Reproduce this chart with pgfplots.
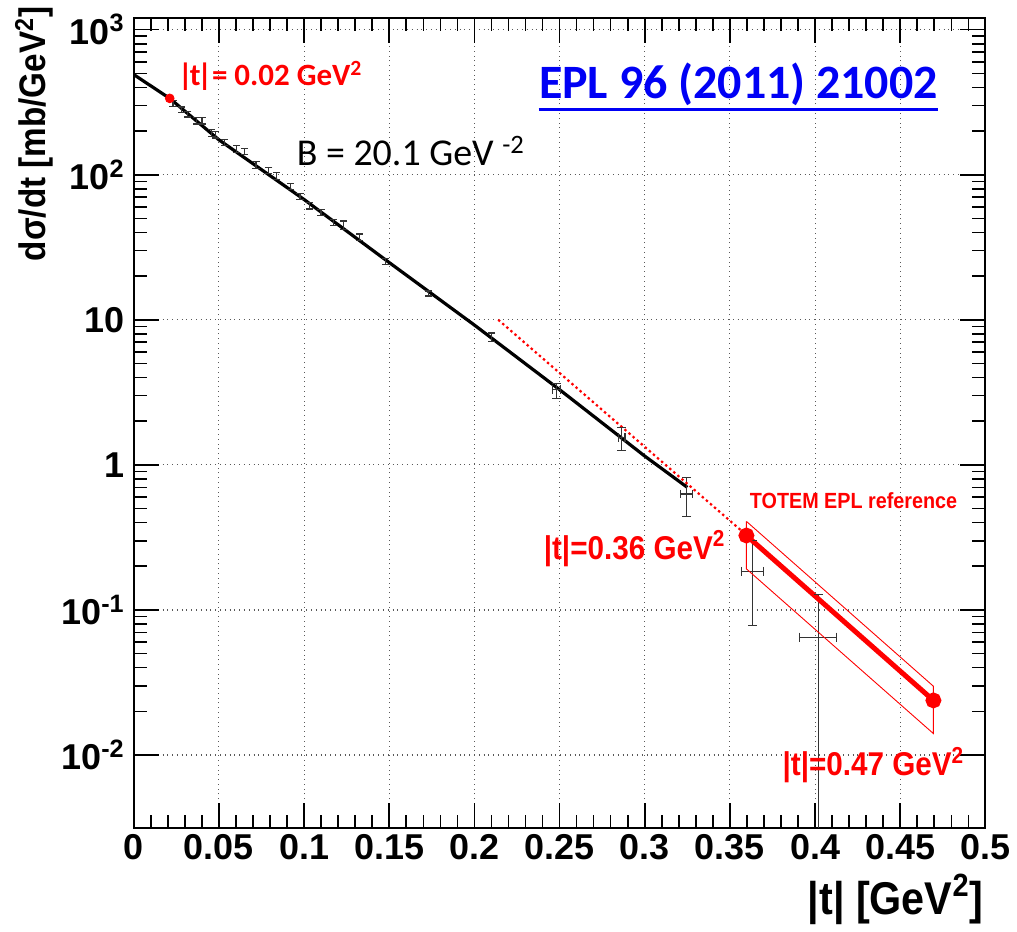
\documentclass[border=0pt]{standalone}
\usepackage{fontspec}
\setmainfont{Liberation Sans}
\newfontfamily\calibri{Carlito}
\newfontfamily\arialn[FakeStretch=0.9]{Liberation Sans}
\usepackage{pgfplots}
\pgfplotsset{compat=1.18}
\usepackage{pgfplotstable}
\definecolor{eplblue}{RGB}{0,0,245}

\pgfplotstableread{
t y e
0.0230 311 15
0.0278 280 13
0.0317 262 12
0.0366 236 12
0.0401 236 12
0.0454 194 10
0.0479 189 10
0.0532 168 8
0.0601 151 8
0.0650 145 7
0.0718 117 6
0.0792 107 5
0.0836 98 5
0.0918 83 4
0.0976 71 3.5
0.1031 61 3
0.1099 55 2.5
0.1172 47 2.3
0.1231 45 3
0.1324 37 2
0.1477 25.3 1.2
0.1731 15.2 0.6
0.2101 7.6 0.5
}\lowt

\pgfplotstableread{
t y ex eyp eym
0.2482 3.29 0.0025 0.36 0.44
0.2864 1.54 0.0020 0.27 0.29
0.3247 0.63 0.0035 0.19 0.19
0.3633 0.185 0.0063 0.115 0.107
0.4018 0.065 0.0110 0.063 0.0645
}\hight

\pgfplotstableread{
t y
0 490
0.0211 336
0.05 174
0.1 67.5
0.15 24.8
0.2 9.2
0.25 3.3
0.3 1.15
0.325 0.70
}\fitcurve

\pgfplotsset{
  ebar/.style={black!80, only marks, mark=-, mark size=0pt,
    error bars/error mark=none,
    error bars/error bar style={black!80, line width=0.6pt, solid}},
  hcap/.style={black!80, only marks, mark=-, mark size=#1, mark options={line width=0.6pt, solid}},
  vcap/.style={black!80, only marks, mark=|, mark size=#1, mark options={line width=0.6pt, solid}},
}

\begin{document}
\begin{tikzpicture}
\begin{axis}[
  scale only axis, width=426.5pt, height=405.5pt,
  xmin=0, xmax=0.5, ymode=log, ymin=0.00315, ymax=1200,
  xtick={0,0.05,0.1,0.15,0.2,0.25,0.3,0.35,0.4,0.45,0.5},
  xticklabels={0,0.05,0.1,0.15,0.2,0.25,0.3,0.35,0.4,0.45,0.5},
  minor x tick num=4,
  ytick={0.01,0.1,1,10,100,1000},
  yticklabels={10\textsuperscript{-2},10\textsuperscript{-1},1,10,10\textsuperscript{2},10\textsuperscript{3}},
  ticklabel style={font=\fontsize{18}{18}\selectfont\bfseries},
  yticklabel style={xshift=-1pt},
  grid=major, major grid style={dotted, black!65, line width=0.55pt},
  axis line style={line width=1.1pt},
  every tick/.style={black, line width=0.8pt},
  major tick length=12.5pt, minor tick length=6.5pt,
  xlabel={|t|  [GeV\textsuperscript{2}]},
  xlabel style={at={(rel axis cs:0.8945,-0.0888)}, anchor=center, font=\arialn\bfseries\fontsize{23}{23}\selectfont},
  ylabel={dσ/dt [mb/GeV\textsuperscript{2}]},
  ylabel style={at={(rel axis cs:-0.117,0.857)}, anchor=center, font=\arialn\bfseries\fontsize{18.5}{18.5}\selectfont},
]
% fit curve
\addplot[black, line width=1.6pt, no markers] table[x=t,y=y] {\fitcurve};
% low-|t| data points: error bars and caps
\addplot[ebar, error bars/.cd, y dir=both, y explicit]
  table[x=t,y=y,y error=e] {\lowt};
\addplot[hcap=1.8pt] table[x=t, y expr=\thisrow{y}+\thisrow{e}] {\lowt};
\addplot[hcap=1.8pt] table[x=t, y expr=\thisrow{y}-\thisrow{e}] {\lowt};
% high-|t| data points: error bars and caps
\addplot[ebar, error bars/.cd, y dir=both, y explicit, x dir=both, x explicit]
  table[x=t,y=y,x error=ex,y error plus=eyp,y error minus=eym] {\hight};
\addplot[hcap=2.2pt] table[x=t, y expr=\thisrow{y}+\thisrow{eyp}] {\hight};
\addplot[hcap=2.2pt] table[x=t, y expr=\thisrow{y}-\thisrow{eym}] {\hight};
\addplot[vcap=2.2pt] table[x expr=\thisrow{t}+\thisrow{ex}, y=y] {\hight};
\addplot[vcap=2.2pt] table[x expr=\thisrow{t}-\thisrow{ex}, y=y] {\hight};
% red dotted extrapolation
\addplot[red, line width=1.1pt, dash pattern=on 1.2pt off 1.5pt, no markers]
  coordinates {(0.214,10) (0.357,0.35)};
% TOTEM band
\addplot[red, line width=0.45pt, no markers]
  coordinates {(0.3597,0.408) (0.4695,0.0298) (0.4695,0.01406) (0.3597,0.192) (0.3597,0.408)};
% TOTEM central line
\addplot[red, line width=2.5pt, mark=*, mark size=2.7pt, mark options={solid, fill=red}]
  coordinates {(0.3597,0.326) (0.4695,0.0238)};
% red dot at 0.02
\addplot[red, only marks, mark=*, mark size=2.2pt]
  coordinates {(0.0211,336)};
% annotations
\node[anchor=west, inner sep=0pt, text=red, font=\calibri\bfseries\fontsize{15.5}{16}\selectfont]
  at (axis cs:0.0258,478) {|\kern-0.1em t\kern-0.1em|= 0.02 GeV\textsuperscript{2}};
\node[anchor=west, inner sep=0pt, text=black, font=\calibri\fontsize{19}{20}\selectfont]
  at (axis cs:0.0955,145.5) {B = 20.1 GeV \textsuperscript{-2}};
\node[inner sep=0pt, text=eplblue, font=\calibri\bfseries\fontsize{24}{24}\selectfont]
  (epl) at (axis cs:0.355,421) {EPL 96 (2011) 21002};
\draw[eplblue, line width=1.5pt] ([yshift=-1.8pt]epl.south west) -- ([yshift=-1.8pt]epl.south east);
\node[text=red, font=\arialn\bfseries\fontsize{11}{11}\selectfont]
  at (axis cs:0.4226,0.568) {TOTEM EPL reference};
\node[anchor=east, inner sep=0pt, text=red, font=\arialn\bfseries\fontsize{16.5}{17}\selectfont]
  at (axis cs:0.3476,0.265) {|t|=0.36 GeV\textsuperscript{2}};
\node[text=red, font=\arialn\bfseries\fontsize{16.5}{17}\selectfont]
  at (axis cs:0.4343,0.0085) {|t|=0.47 GeV\textsuperscript{2}};
\end{axis}
\path (current axis.south west) ++(-67pt,-47.5pt) rectangle ([shift={(15pt,8.5pt)}]current axis.north east);
\end{tikzpicture}
\end{document}
